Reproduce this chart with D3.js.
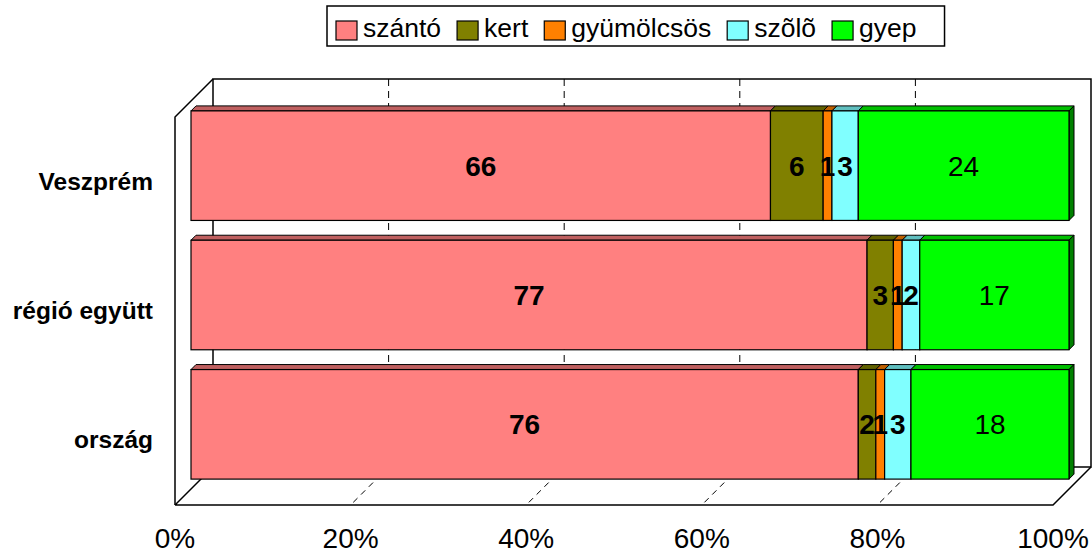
<!DOCTYPE html>
<html>
<head>
<meta charset="utf-8">
<script src="https://cdn.jsdelivr.net/npm/d3@7"></script>
<style>
  html, body { margin: 0; padding: 0; background: #fff; }
  svg { display: block; font-family: "Liberation Sans", Arial, sans-serif; }
</style>
</head>
<body>
<svg id="chart" width="1092" height="554"></svg>
<script>
// ---- data ----
const categories = ["Veszprém", "régió együtt", "ország"];
const seriesNames = ["szántó", "kert", "gyümölcsös", "szõlõ", "gyep"];
const szanto = [66, 77, 76];
const kert = [6, 3, 2];
const gyumolcsos = [1, 1, 1];
const szolo = [3, 2, 3];
const gyep = [24, 17, 18];
const tickValues = [0, 20, 40, 60, 80, 100];
const tickLabels = ["0%", "20%", "40%", "60%", "80%", "100%"];
const colors = ["#FF8080", "#808000", "#FF8000", "#80FFFF", "#00FF00"];
const boldLabels = [true, true, true, true, false];

// ---- layout ----
const W = 1092, H = 554;
const front = { left: 175, right: 1053, top: 117, bottom: 505 };
const DEPTH = 38;      // wall depth offset
const BAR_OFF = 16;    // bar front face offset from front plane
const BAR_D = 5;       // bar thickness

const svg = d3.select("#chart");

const x = d3.scaleLinear().domain([0, 100]).range([front.left, front.right]);
const y = d3.scaleBand().domain(categories).range([front.top, front.bottom]).paddingInner(0.153).paddingOuter(0.0765);

const rows = categories.map((c, i) => ({
  cat: c, "szántó": szanto[i], "kert": kert[i], "gyümölcsös": gyumolcsos[i], "szõlõ": szolo[i], "gyep": gyep[i]
}));
const stacked = d3.stack().keys(seriesNames)(rows);

// ---- walls & floor ----
const g = svg.append("g");
const lineStyle = sel => sel.attr("stroke", "#000").attr("stroke-width", 1.5).attr("fill", "none");

// back wall
g.append("rect")
  .attr("x", front.left + DEPTH).attr("y", front.top - DEPTH)
  .attr("width", front.right - front.left).attr("height", front.bottom - front.top)
  .call(lineStyle);
// left wall
g.append("path")
  .attr("d", `M${front.left},${front.bottom} L${front.left},${front.top} L${front.left + DEPTH},${front.top - DEPTH}`)
  .call(lineStyle);
// floor
g.append("path")
  .attr("d", `M${front.left},${front.bottom} L${front.right},${front.bottom} L${front.right + DEPTH},${front.bottom - DEPTH}
              M${front.left},${front.bottom} L${front.left + DEPTH},${front.bottom - DEPTH}`)
  .call(lineStyle);

// gridlines on back wall and floor
const inner = tickValues.filter(v => v > 0 && v < 100);
g.selectAll(".gridv").data(inner).join("line")
  .attr("x1", d => x(d) + DEPTH).attr("x2", d => x(d) + DEPTH)
  .attr("y1", front.top - DEPTH).attr("y2", front.bottom - DEPTH)
  .attr("stroke", "#000").attr("stroke-width", 1).attr("stroke-dasharray", "7,5");
g.selectAll(".gridf").data(inner).join("line")
  .attr("x1", d => x(d) + DEPTH).attr("x2", d => x(d))
  .attr("y1", front.bottom - DEPTH).attr("y2", front.bottom)
  .attr("stroke", "#000").attr("stroke-width", 1).attr("stroke-dasharray", "6,5");

// ---- bars ----
const shade = (c, k) => { const col = d3.rgb(c); return d3.rgb(col.r * k, col.g * k, col.b * k).toString(); };
const bars = svg.append("g");
stacked.forEach((s, si) => {
  s.forEach((d, ci) => {
    const x0 = x(d[0]) + BAR_OFF, x1 = x(d[1]) + BAR_OFF;
    const yT = y(categories[ci]) - BAR_OFF, yB = yT + y.bandwidth();
    // top face
    bars.append("path")
      .attr("d", `M${x0},${yT} L${x0 + BAR_D},${yT - BAR_D} L${x1 + BAR_D},${yT - BAR_D} L${x1},${yT} Z`)
      .attr("fill", shade(colors[si], 0.75)).attr("stroke", "#000").attr("stroke-width", 1);
    if (si === seriesNames.length - 1) {
      bars.append("path")
        .attr("d", `M${x1},${yT} L${x1 + BAR_D},${yT - BAR_D} L${x1 + BAR_D},${yB - BAR_D} L${x1},${yB} Z`)
        .attr("fill", shade(colors[si], 0.5)).attr("stroke", "#000").attr("stroke-width", 1);
    }
    bars.append("rect")
      .attr("x", x0).attr("y", yT).attr("width", x1 - x0).attr("height", yB - yT)
      .attr("fill", colors[si]).attr("stroke", "#000").attr("stroke-width", 1.2);
  });
});

// value labels
stacked.forEach((s, si) => {
  s.forEach((d, ci) => {
    const cx = (x(d[0]) + x(d[1])) / 2 + BAR_OFF;
    const cy = y(categories[ci]) + y.bandwidth() / 2 - BAR_OFF;
    bars.append("text")
      .attr("x", cx).attr("y", cy + 10)
      .attr("text-anchor", "middle")
      .attr("font-size", 28)
      .attr("font-weight", boldLabels[si] ? "bold" : "normal")
      .attr("fill", "#000")
      .text(d[1] - d[0]);
  });
});

// category labels
svg.append("g").selectAll("text").data(categories).join("text")
  .attr("x", 153)
  .attr("y", d => y(d) + y.bandwidth() / 2 + 8)
  .attr("text-anchor", "end")
  .attr("font-size", 24.5).attr("font-weight", "bold")
  .text(d => d);

// x axis tick labels
svg.append("g").selectAll("text").data(tickValues).join("text")
  .attr("x", d => x(d))
  .attr("y", 548)
  .attr("text-anchor", "middle")
  .attr("font-size", 28)
  .text((d, i) => tickLabels[i]);

// ---- legend ----
const leg = svg.append("g");
const legLeft = 327, legTop = 6, legH = 40;
const sw = 21, swH = 19, gapST = 6, gapItem = 16, padL = 9, padR = 28;
const fs = 26.5;
let cx = 0;
const items = [];
seriesNames.forEach((n, i) => {
  const t = leg.append("text").attr("font-size", fs).attr("y", legTop + 31).text(n);
  const tw = t.node().getComputedTextLength();
  items.push({ t, tw, xs: cx });
  cx += sw + gapST + tw + (i < seriesNames.length - 1 ? gapItem : 0);
});
const totalW = padL + cx + padR;
leg.insert("rect", ":first-child")
  .attr("x", legLeft).attr("y", legTop).attr("width", totalW).attr("height", legH)
  .attr("fill", "#fff").attr("stroke", "#000").attr("stroke-width", 1.5);
items.forEach((it, i) => {
  const sx = legLeft + padL + it.xs;
  leg.append("rect").attr("x", sx).attr("y", legTop + 15).attr("width", sw).attr("height", swH)
    .attr("fill", colors[i]).attr("stroke", "#000").attr("stroke-width", 1.2);
  it.t.attr("x", sx + sw + gapST);
});
</script>
</body>
</html>
